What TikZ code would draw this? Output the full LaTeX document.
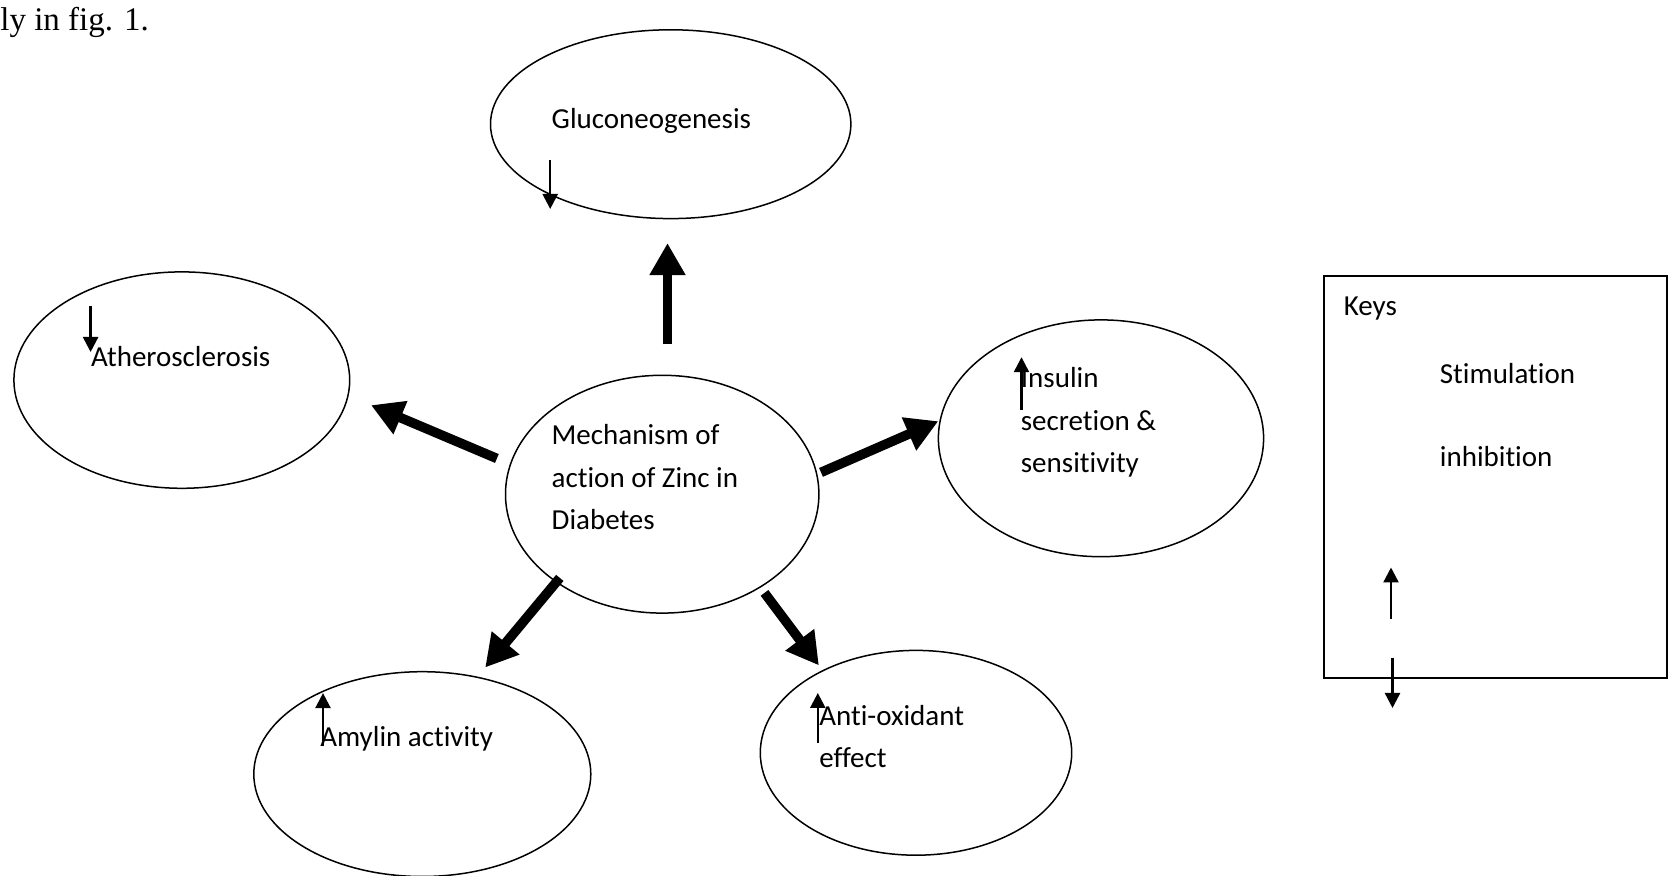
\documentclass[tikz,border=0pt]{standalone}
\usepackage{fontspec}
\setmainfont[Ligatures=NoCommon]{Carlito}
\newfontfamily\serifdoc{Liberation Serif}
\usetikzlibrary{arrows.meta,shapes.geometric}
\begin{document}
\begin{tikzpicture}[x=0.5pt,y=-0.5pt,
  bubble/.style={draw,ellipse,line width=0.75pt,inner sep=0pt},
  lbl/.style={anchor=west,inner sep=0pt,font=\fontsize{14.5}{21.3}\selectfont,align=left},
  bigarrow/.style={line width=4.8pt,-{Triangle[length=16pt,width=17pt]}},
  thinarrow/.style={line width=1.2pt,-{Triangle[length=7.5pt,width=7.5pt]}}]
\useasboundingbox (0,0) rectangle (1672,876);
\fill[white] (0,0) rectangle (1672,876);
% top-left fragment of running text
\node[anchor=west,inner sep=0pt,font=\serifdoc\fontsize{16.5}{19}\selectfont] (frag) at (0,22) {ly in fig. 1.};
% ellipses
\node[bubble,minimum width=180.2pt,minimum height=94.4pt] (glu) at (670.7,124.2) {};
\node[bubble,minimum width=167.9pt,minimum height=108.2pt] (ath) at (181.8,380.1) {};
\node[bubble,minimum width=156.7pt,minimum height=118.9pt] (mech) at (662.2,494.2) {};
\node[bubble,minimum width=162.6pt,minimum height=118.4pt] (ins) at (1101,438.3) {};
\node[bubble,minimum width=168.5pt,minimum height=102.4pt] (amy) at (422.3,774.1) {};
\node[bubble,minimum width=155.7pt,minimum height=102.4pt] (antiox) at (916,752.8) {};
% texts
\node[lbl] (tglu) at (551.3,120.5) {Gluconeogenesis};
\node[lbl] (tath) at (90.6,356.5) {Atherosclerosis};
\node[lbl,anchor=north west] (tmech) at (551.3,424.2) {Mechanism of\\action of Zinc in\\Diabetes};
\node[lbl,anchor=north west] (tins) at (1020.5,367) {Insulin\\secretion \&\\sensitivity};
\node[lbl] (tamy) at (319.9,738.9) {Amylin activity};
\node[lbl,anchor=north west] (tanti) at (818.9,704.5) {Anti-oxidant\\effect};
% small arrows
\coordinate (g1) at (550.2,160); \coordinate (g2) at (550.2,209);
\draw[thinarrow] (g1) -- (g2);
\coordinate (a1) at (90.6,306); \coordinate (a2) at (90.6,352);
\draw[thinarrow] (a1) -- (a2);
\coordinate (i1) at (1021.5,410.5); \coordinate (i2) at (1021.5,357.2);
\draw[thinarrow] (i1) -- (i2);
\coordinate (m1) at (323,746.4); \coordinate (m2) at (323,693.1);
\draw[thinarrow] (m1) -- (m2);
\coordinate (o1) at (817.8,743); \coordinate (o2) at (817.8,693);
\draw[thinarrow] (o1) -- (o2);
% big arrows
\coordinate (u1) at (667.5,344.4); \coordinate (u2) at (667.5,243.1);
\draw[bigarrow] (u1) -- (u2);
\coordinate (l1) at (496.9,458.5); \coordinate (l2) at (371,405.2);
\draw[bigarrow] (l1) -- (l2);
\coordinate (r1) at (821,472.4); \coordinate (r2) at (938.3,421.2);
\draw[bigarrow] (r1) -- (r2);
\coordinate (dl1) at (559.8,577.9); \coordinate (dl2) at (485.2,667.5);
\draw[bigarrow] (dl1) -- (dl2);
\coordinate (dr1) at (764.5,592.9); \coordinate (dr2) at (818.9,665.4);
\draw[bigarrow] (dr1) -- (dr2);
% keys box
\node[draw,line width=0.9pt,anchor=north west,minimum width=171.2pt,minimum height=201pt,inner sep=0pt] (keys) at (1323.3,275.1) {};
\node[lbl] (tkeys) at (1343.5,308.5) {Keys};
\node[lbl] (tstim) at (1439.5,373.2) {Stimulation};
\node[lbl] (tinh) at (1439.5,456.4) {inhibition};
\coordinate (k1) at (1391,619); \coordinate (k2) at (1391,567.5);
\draw[thinarrow] (k1) -- (k2);
\coordinate (k3) at (1392.5,658); \coordinate (k4) at (1392.5,708);
\draw[thinarrow] (k3) -- (k4);
\end{tikzpicture}
\end{document}
